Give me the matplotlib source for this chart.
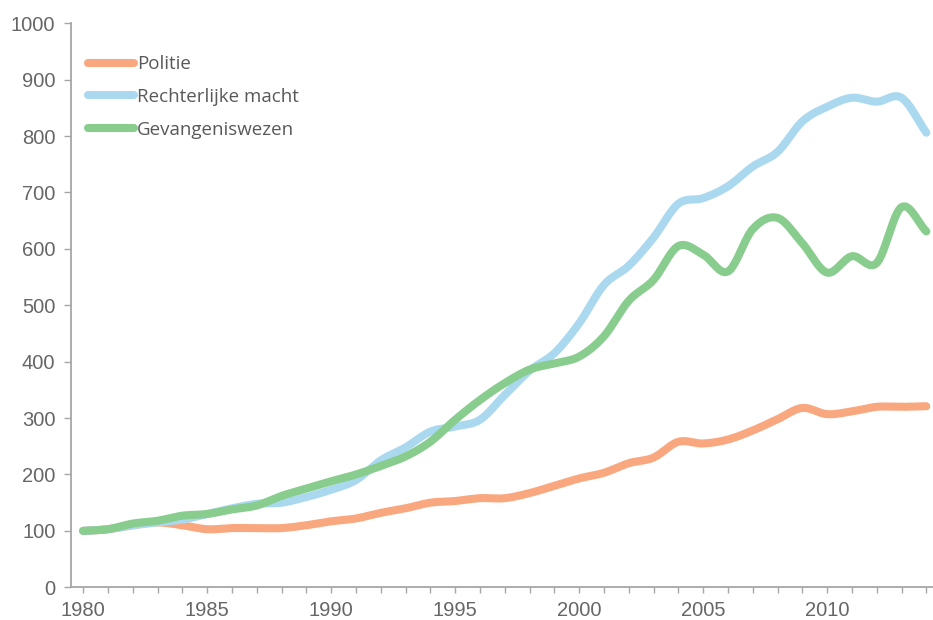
import numpy as np
import matplotlib
matplotlib.use("Agg")
import matplotlib.pyplot as plt
from matplotlib.lines import Line2D

plt.rcParams["font.family"] = ["Liberation Sans", "DejaVu Sans"]

years = list(range(1980, 2015))
politie = [100, 103, 110, 115, 110, 103, 105, 105, 105, 110,
           117, 122, 132, 140, 150, 153, 158, 158, 167, 180,
           193, 203, 220, 230, 258, 255, 262, 278, 298, 318,
           307, 312, 320, 320, 321]
rechterlijke = [100, 103, 110, 115, 120, 130, 140, 148, 150, 160,
                173, 190, 225, 248, 276, 285, 297, 341, 384, 415,
                468, 536, 570, 620, 680, 690, 711, 746, 772, 826,
                852, 868, 861, 868, 806]
gevangenis = [100, 103, 113, 118, 127, 130, 138, 145, 162, 175,
              188, 200, 215, 232, 258, 297, 332, 362, 386, 397,
              409, 445, 508, 545, 605, 590, 560, 635, 655, 610,
              558, 587, 575, 674, 631]

labels = ["Politie", "Rechterlijke macht", "Gevangeniswezen"]
colors = ["#F9A77F", "#A9D8EF", "#88CC8E"]
series = [politie, rechterlijke, gevangenis]

def smooth(x, y, n=20):
    x = np.asarray(x, float); y = np.asarray(y, float)
    px = np.concatenate([[2*x[0]-x[1]], x, [2*x[-1]-x[-2]]])
    py = np.concatenate([[2*y[0]-y[1]], y, [2*y[-1]-y[-2]]])
    xs, ys = [], []
    t = np.linspace(0, 1, n, endpoint=False)
    for i in range(1, len(px)-2):
        def cr(a0, a1, a2, a3):
            return 0.5*((2*a1) + (-a0+a2)*t + (2*a0-5*a1+4*a2-a3)*t**2 + (-a0+3*a1-3*a2+a3)*t**3)
        xs.append(cr(px[i-1], px[i], px[i+1], px[i+2]))
        ys.append(cr(py[i-1], py[i], py[i+1], py[i+2]))
    xs.append([x[-1]]); ys.append([y[-1]])
    return np.concatenate(xs), np.concatenate(ys)

fig = plt.figure(figsize=(9.33, 6.2), dpi=100)
W, H = 933, 620
x0, y0 = 70.7, 587.3
ppy = 24.8
ax = fig.add_axes([x0/W, (H-y0)/H, 35*ppy/W, (y0-23.3)/H])

for ys, c, lab in zip(series, colors, labels):
    sx, sy = smooth(years, ys)
    ax.plot(sx, sy, color=c, lw=5.8, solid_capstyle="round", solid_joinstyle="round", label=lab)

ax.set_xlim(1979.5, 2014.5)
ax.set_ylim(0, 1000)
ax.set_xticks(range(1980, 2015, 5))
ax.set_xticks(range(1980, 2015), minor=True)
ax.set_yticks(range(0, 1001, 100))

gray = "#A6A6A6"
tc = "#595959"
for s in ["top", "right"]:
    ax.spines[s].set_visible(False)
for s in ["left", "bottom"]:
    ax.spines[s].set_color(gray)
    ax.spines[s].set_linewidth(1.3)
ax.tick_params(axis="both", which="both", color=gray, width=1.0, labelcolor="#666666",
               labelsize=14.5, direction="out")
ax.tick_params(axis="y", length=5, pad=6)
ax.tick_params(axis="x", which="both", length=4, pad=6)

handles = [Line2D([], [], color=c, lw=5.8, solid_capstyle="round") for c in colors]
leg = fig.legend(handles, labels, loc="upper left", bbox_to_anchor=(79/W, 1-46/H),
                 frameon=False, prop={"family": "Open Sans", "size": 13.5},
                 handlelength=2.45, handletextpad=0.15, labelspacing=0.78, borderpad=0)
for t in leg.get_texts():
    t.set_color(tc)

fig.savefig("out.png", dpi=100)
